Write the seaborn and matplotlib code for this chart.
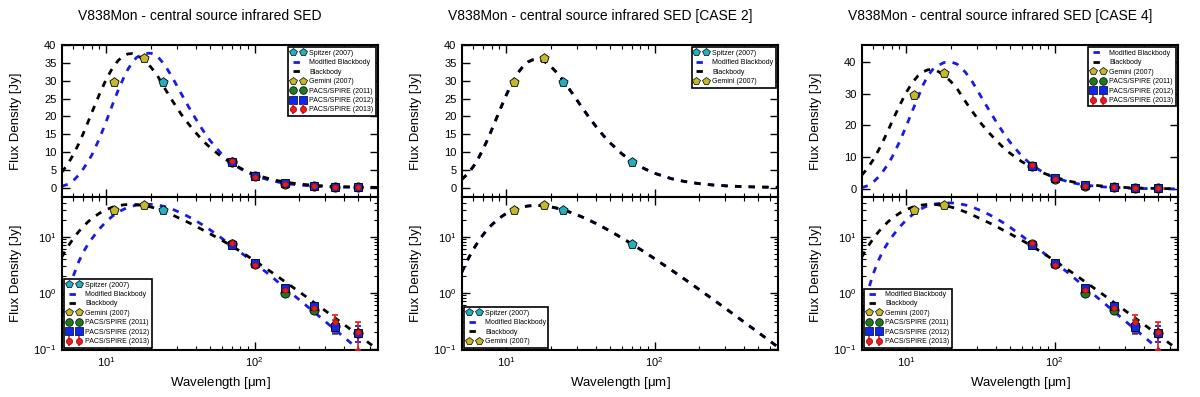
import numpy as np
import pandas as pd
import matplotlib
matplotlib.use('Agg')
import matplotlib.pyplot as plt
import seaborn as sns
from matplotlib.lines import Line2D
from matplotlib.ticker import LogLocator, MultipleLocator, NullFormatter

sns.set_style('white')
plt.rcParams['font.family'] = ['Liberation Sans', 'DejaVu Sans']
plt.rcParams['mathtext.fontset'] = 'custom'
plt.rcParams['mathtext.rm'] = 'Liberation Sans'
plt.rcParams['mathtext.it'] = 'Liberation Sans:italic'
plt.rcParams['mathtext.default'] = 'regular'
for k in ['text.color', 'axes.labelcolor', 'xtick.color', 'ytick.color']:
    plt.rcParams[k] = 'black'

# ---------------- data ----------------
titles = ["V838Mon - central source infrared SED",
          "V838Mon - central source infrared SED [CASE 2]",
          "V838Mon - central source infrared SED [CASE 4]"]

wave_model = [5, 5.5, 6, 6.5, 7, 7.5, 8, 9, 10, 11, 12, 13, 14, 15, 16, 18, 20, 22,
              25, 28, 32, 36, 40, 45, 50, 60, 70, 85, 100, 130, 160, 200, 250, 320,
              400, 500, 650, 700]

# Case 1 / Case 4 blackbody
bb_case1 = [4.3, 6.6, 9.3, 12.2, 15.2, 18.2, 21.1, 26.2, 30.4, 33.5, 35.6, 36.9, 37.5,
            37.6, 37.3, 35.8, 33.8, 31.6, 27.6, 24.3, 20.6, 17.8, 15.5, 13.1, 11.3,
            8.65, 6.85, 4.95, 3.72, 2.33, 1.58, 1.04, 0.68, 0.42, 0.272, 0.176,
            0.105, 0.0906]
mbb_case1 = [0.4, 0.95, 2.0, 3.5, 5.3, 7.2, 9.2, 13.8, 18.6, 23.2, 27.2, 30.5, 33.2,
             35.1, 36.5, 37.6, 37.7, 37.0, 34.2, 30.8, 26.4, 22.6, 19.4, 16.0, 13.3,
             9.4, 6.9, 4.7, 3.4, 1.95, 1.22, 0.75, 0.46, 0.265, 0.162, 0.098,
             0.055, 0.047]
# Case 2 (both models coincide)
bb_case2 = [2.29, 3.9, 5.94, 8.32, 10.92, 13.62, 16.36, 21.5, 25.96, 29.53, 32.2,
            34.07, 35.24, 35.83, 36.0, 35.47, 33.98, 32.19, 29.23, 26.35, 22.84,
            19.84, 17.32, 14.72, 12.63, 9.55, 7.45, 5.38, 4.05, 2.535, 1.733, 1.141,
            0.747, 0.466, 0.302, 0.1957, 0.117, 0.101]
mbb_case2 = bb_case2
# Case 4
bb_case4 = bb_case1
mbb_case4 = [0.45, 1.05, 2.2, 3.8, 5.7, 7.7, 9.9, 14.8, 19.8, 24.6, 28.8, 32.8, 35.6,
             37.5, 38.6, 39.8, 40.0, 39.3, 36.8, 33.6, 29.0, 25.0, 21.5, 17.8, 14.8,
             10.4, 7.6, 5.05, 3.55, 2.02, 1.26, 0.77, 0.47, 0.27, 0.165, 0.10,
             0.056, 0.048]

spitzer_wave = [24, 70]
spitzer_flux = [29.5, 7.3]
gemini_wave = [11.2, 18.1]
gemini_flux = [29.5, 36.4]

pacs_wave = [70, 100, 160, 250, 350, 500]
pacs2011_flux = [7.3, 3.3, 0.98, 0.50, 0.25, 0.19]
pacs2011_err = [0.4, 0.2, 0.1, 0.05, 0.07, 0.06]
pacs2012_flux = [7.1, 3.4, 1.2, 0.57, 0.24, 0.19]
pacs2012_err = [0.4, 0.2, 0.1, 0.05, 0.05, 0.06]
pacs2013_flux = [7.6, 3.1, 1.1, 0.54, 0.30, 0.20]
pacs2013_err = [0.4, 0.2, 0.1, 0.06, 0.10, 0.105]

labels_all = ["Spitzer (2007)", "Modified Blackbody", "Blackbody", "Gemini (2007)",
              "PACS/SPIRE (2011)", "PACS/SPIRE (2012)", "PACS/SPIRE (2013)"]

# ---------------- style ----------------
C_SPITZER = '#22b0bd'
C_GEMINI = '#c4b92a'
C_GREEN = '#1e7a1e'
C_BLUE = '#0a28f5'
C_RED = '#f01818'
C_MBB = '#1a1ae6'
DASH = (0, (2.3, 2.6))

fig = plt.figure(figsize=(12, 3.97), dpi=100)
W, H = 1200.0, 397.0

cases = [
    dict(bb=bb_case1, mbb=mbb_case1, spitzer=True, pacs=True, ylim=(-2.6, 40), step=5,
         labels=[0, 1, 2, 3, 4, 5, 6]),
    dict(bb=bb_case2, mbb=mbb_case2, spitzer=True, pacs=False, ylim=(-2.6, 40), step=5,
         labels=[0, 1, 2, 3]),
    dict(bb=bb_case4, mbb=mbb_case4, spitzer=False, pacs=True, ylim=(-2.5, 45.3), step=10,
         labels=[1, 2, 3, 4, 5, 6]),
]


def handles_for(idx):
    h = [
        Line2D([], [], marker='p', ls='none', mfc=C_SPITZER, mec='black', ms=5.5, mew=0.5),
        Line2D([], [], color=C_MBB, lw=2, ls=DASH),
        Line2D([], [], color='black', lw=2, ls=DASH),
        Line2D([], [], marker='p', ls='none', mfc=C_GEMINI, mec='black', ms=5.5, mew=0.5),
        Line2D([], [], marker='o', ls='none', mfc=C_GREEN, mec='black', ms=5.5, mew=0.5),
        Line2D([], [], marker='s', ls='none', mfc=C_BLUE, mec='black', ms=5.5, mew=0.5),
        (Line2D([], [], marker='|', ls='none', color=C_RED, ms=7, mew=1.2),
         Line2D([], [], marker='o', ls='none', mfc=C_RED, mec='#801010', ms=4.5, mew=0.5)),
    ]
    return [h[i] for i in idx], [labels_all[i] for i in idx]


def draw_panel(ax, case, log):
    ax.set_xscale('log')
    if log:
        ax.set_yscale('log')
    sns.lineplot(x=wave_model, y=case['mbb'], ax=ax, color=C_MBB, lw=2, ls=DASH,
                 sort=False, estimator=None, legend=False, zorder=2)
    sns.lineplot(x=wave_model, y=case['bb'], ax=ax, color='black', lw=2, ls=DASH,
                 sort=False, estimator=None, legend=False, zorder=2.1)
    if case['spitzer']:
        sns.scatterplot(x=spitzer_wave, y=spitzer_flux, ax=ax, marker='p', s=48,
                        color=C_SPITZER, edgecolor='black', linewidth=0.6,
                        legend=False, zorder=4)
    sns.scatterplot(x=gemini_wave, y=gemini_flux, ax=ax, marker='p', s=48,
                    color=C_GEMINI, edgecolor='black', linewidth=0.6,
                    legend=False, zorder=4)
    if case['pacs']:
        ax.errorbar(pacs_wave, pacs2011_flux, yerr=pacs2011_err, fmt='none',
                    ecolor=C_GREEN, elinewidth=1.2, capsize=2.5, capthick=1.2, zorder=3)
        ax.errorbar(pacs_wave, pacs2012_flux, yerr=pacs2012_err, fmt='none',
                    ecolor=C_BLUE, elinewidth=1.2, capsize=2.5, capthick=1.2, zorder=3)
        ax.errorbar(pacs_wave, pacs2013_flux, yerr=pacs2013_err, fmt='none',
                    ecolor=C_RED, elinewidth=1.2, capsize=2.5, capthick=1.2, zorder=3.5)
        sns.scatterplot(x=pacs_wave, y=pacs2011_flux, ax=ax, marker='o', s=44,
                        color=C_GREEN, edgecolor='black', linewidth=0.6,
                        legend=False, zorder=4)
        sns.scatterplot(x=pacs_wave, y=pacs2012_flux, ax=ax, marker='s', s=40,
                        color=C_BLUE, edgecolor='black', linewidth=0.6,
                        legend=False, zorder=5)
        sns.scatterplot(x=pacs_wave, y=pacs2013_flux, ax=ax, marker='o', s=16,
                        color=C_RED, edgecolor='#801010', linewidth=0.5,
                        legend=False, zorder=6)

    ax.set_xlim(5.03, 680)
    ax.xaxis.set_major_locator(LogLocator(base=10))
    ax.xaxis.set_minor_locator(LogLocator(base=10, subs=np.arange(2, 10)))
    ax.xaxis.set_minor_formatter(NullFormatter())
    if log:
        ax.set_ylim(0.095, 51)
        ax.yaxis.set_major_locator(LogLocator(base=10))
        ax.yaxis.set_minor_locator(LogLocator(base=10, subs=np.arange(2, 10)))
        ax.yaxis.set_minor_formatter(NullFormatter())
    else:
        ax.set_ylim(*case['ylim'])
        ax.yaxis.set_major_locator(MultipleLocator(case['step']))
    ax.tick_params(which='both', direction='in', top=True, right=True, bottom=True,
                   left=True, labelsize=8, pad=4, color='black')
    ax.tick_params(which='major', length=6, width=1)
    ax.tick_params(which='minor', length=3, width=0.8)
    for sp in ax.spines.values():
        sp.set_linewidth(1.5)
        sp.set_color('black')
    ax.set_ylabel('Flux Density [Jy]', fontsize=9.5)
    ax.yaxis.set_label_coords(-40 / 316, 0.5)
    h, l = handles_for(case['labels'])
    leg = ax.legend(h, l, loc='lower left' if log else 'upper right', fontsize=5,
                    numpoints=2, frameon=True, fancybox=False, edgecolor='black',
                    framealpha=1, borderpad=0.35, labelspacing=0.35,
                    handlelength=2.0, handletextpad=0.6, borderaxespad=0.35)
    leg.get_frame().set_linewidth(1.2)
    if log:
        ax.set_xlabel('Wavelength [$\\mu$m]', fontsize=9.5, labelpad=4)
    else:
        ax.tick_params(labelbottom=False)


for i, case in enumerate(cases):
    left = 62 + 400 * i
    ax_top = fig.add_axes([left / W, (H - 197) / H, 316 / W, (197 - 45) / H])
    ax_bot = fig.add_axes([left / W, (H - 350) / H, 316 / W, (350 - 197) / H])
    draw_panel(ax_top, case, False)
    draw_panel(ax_bot, case, True)
    fig.text((200 + 400 * i) / W, 1 - 16 / H, titles[i], ha='center', va='center',
             fontsize=10)

fig.savefig('out.png', dpi=100)
